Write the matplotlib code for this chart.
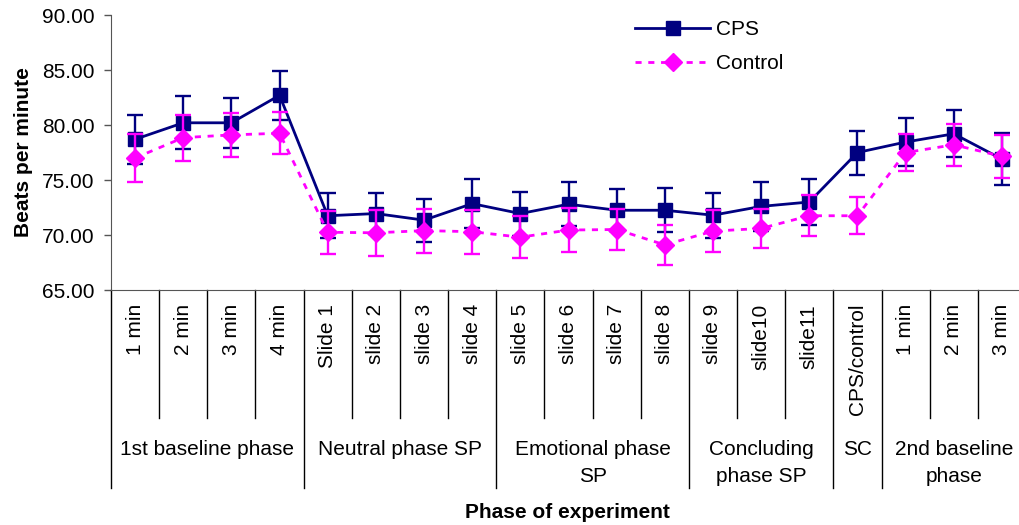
import matplotlib
matplotlib.use("Agg")
import matplotlib.pyplot as plt
from matplotlib.lines import Line2D

plt.rcParams['font.family'] = ['Liberation Sans', 'DejaVu Sans']

categories = ['1 min', '2 min', '3 min', '4 min',
              'Slide 1', 'slide 2', 'slide 3', 'slide 4',
              'slide 5', 'slide 6', 'slide 7', 'slide 8',
              'slide 9', 'slide10', 'slide11',
              'CPS/control',
              '1 min', '2 min', '3 min']
groups = ['1st baseline phase', 'Neutral phase SP', 'Emotional phase\nSP',
          'Concluding\nphase SP', 'SC', '2nd baseline\nphase']
group_sizes = [4, 4, 4, 3, 1, 3]

cps = [78.7, 80.2, 80.2, 82.7, 71.75, 71.95, 71.35, 72.85, 71.95, 72.8,
       72.25, 72.25, 71.8, 72.6, 73.0, 77.5, 78.45, 79.2, 76.9]
cps_err = [2.2, 2.4, 2.3, 2.2, 2.05, 1.9, 1.95, 2.2, 2.0, 2.0,
           1.9, 2.0, 2.05, 2.2, 2.1, 2.0, 2.2, 2.15, 2.35]
control = [77.0, 78.85, 79.1, 79.25, 70.25, 70.2, 70.4, 70.3, 69.8, 70.45,
           70.5, 69.1, 70.35, 70.6, 71.75, 71.75, 77.5, 78.2, 77.15]
control_err = [2.15, 2.1, 2.0, 1.9, 1.95, 2.1, 2.0, 2.0, 1.9, 2.0,
               1.9, 1.85, 1.9, 1.8, 1.85, 1.7, 1.7, 1.9, 1.95]

NAVY = '#000080'
PINK = '#FF00FF'
DASH = (0, (2.2, 2.4))
FS = 15

W, H = 1019, 525
fig = plt.figure(figsize=(W / 100, H / 100), dpi=100)
# plot area runs past the right edge of the picture, like the original
ax = fig.add_axes([111 / W, (H - 290) / H, 915 / W, 275 / H])

x = list(range(len(categories)))
ax.errorbar(x, cps, yerr=cps_err, color=NAVY, lw=2, marker='s', ms=10,
            capsize=5.5, elinewidth=1.7, capthick=1.7, zorder=3)
ax.errorbar(x, control, yerr=control_err, color=PINK, lw=2, ls=DASH,
            marker='D', ms=9, capsize=5.5, elinewidth=1.7, capthick=1.7,
            zorder=4)

ax.set_xlim(-0.5, len(categories) - 0.5)
ax.set_ylim(65, 90)
yt = [65, 70, 75, 80, 85, 90]
ax.set_yticks(yt)
ax.set_yticklabels(['%.2f' % v for v in yt], fontsize=FS)
ax.tick_params(axis='y', direction='out', length=5, width=1, pad=7, color='#555555')
ax.set_xticks(x)
ax.set_xticklabels(categories, rotation=90, fontsize=FS, va='top')
ax.tick_params(axis='x', length=0, pad=10)
for s in ['top', 'right']:
    ax.spines[s].set_visible(False)
ax.spines['left'].set_color('#555555')
ax.spines['bottom'].set_color('#555555')

# separators under the axis
tr = ax.get_xaxis_transform()
short_y = -(418 - 290) / 275
long_y = -(488 - 290) / 275
bounds = [0]
for g in group_sizes:
    bounds.append(bounds[-1] + g)
for i in range(len(categories) + 1):
    bottom = long_y if i in bounds else short_y
    ax.plot([i - 0.5, i - 0.5], [0, bottom], color='black', lw=1,
            transform=tr, clip_on=False)

for g, lo, hi in zip(groups, bounds[:-1], bounds[1:]):
    ax.text((lo + hi - 1) / 2, -(440 - 290) / 275, g, transform=tr,
            ha='center', va='top', fontsize=FS, linespacing=1.55)

ax.set_ylabel('Beats per minute', fontsize=FS, fontweight='bold', labelpad=6)
fig.text(567 / W, 1 - 512 / H, 'Phase of experiment', ha='center',
         va='center', fontsize=FS, fontweight='bold')

handles = [Line2D([], [], color=NAVY, lw=2, marker='s', ms=10),
           Line2D([], [], color=PINK, lw=2, ls=DASH, marker='D', ms=9)]
ax.legend(handles, ['CPS', 'Control'], loc='upper left',
          bbox_to_anchor=(635 / W, 1 - 20 / H), bbox_transform=fig.transFigure,
          frameon=False, fontsize=FS, handlelength=3.6, labelspacing=0.72,
          handletextpad=0.3, borderpad=0, borderaxespad=0)

fig.savefig('out.png', dpi=100)
